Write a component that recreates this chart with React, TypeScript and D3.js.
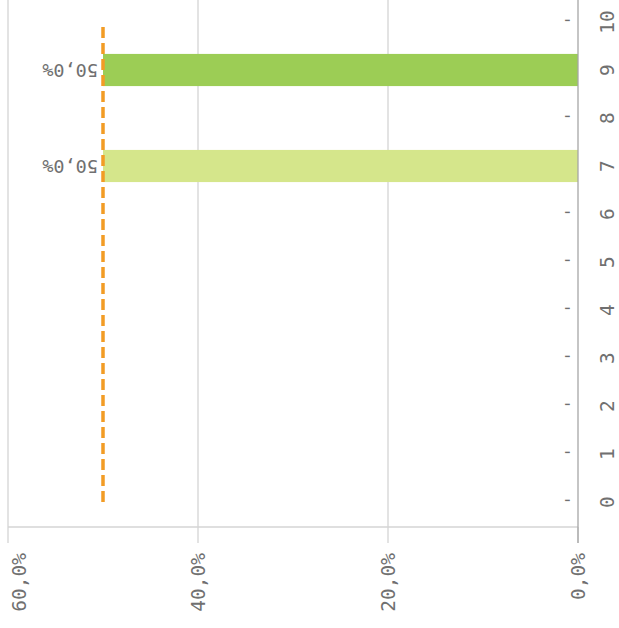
import * as d3 from "d3";

const WIDTH = 619;
const HEIGHT = 628;

// categories along the (rotated) category axis, bottom to top
const categories = ["0", "1", "2", "3", "4", "5", "6", "7", "8", "9", "10"];
// share per category (0 shows as "-")
const values = [0, 0, 0, 0, 0, 0, 0, 0.5, 0, 0.5, 0];
// target line value for each category
const targets = [0.5, 0.5, 0.5, 0.5, 0.5, 0.5, 0.5, 0.5, 0.5, 0.5, 0.5];
const barColors: Record<string, string> = { "7": "#d5e68b", "9": "#9ccd55" };
const valueTicks = [0, 0.2, 0.4, 0.6];

const FONT = "'DejaVu Sans Mono', monospace";
const TEXT = "#707070";

const fmt = (v: number) => (v * 100).toFixed(1).replace(".", ",") + "%";

export default function App() {
  const x = d3.scaleLinear().domain([0, 0.6]).range([578, 8]);
  const y = d3
    .scaleBand<string>()
    .domain(categories)
    .range([526, -2])
    .paddingInner(0.33)
    .paddingOuter(0.165);
  const cy = (c: string) => (y(c) as number) + y.bandwidth() / 2;

  const targetLine = d3
    .line<number>()
    .x((d) => x(d))
    .y((_d, i) => cy(categories[i]));

  const axisY = 527;

  return (
    <svg
      width={WIDTH}
      height={HEIGHT}
      style={{ position: "absolute", left: 0, top: 0, background: "#fff" }}
    >
      {/* gridlines */}
      {valueTicks
        .filter((t) => t > 0)
        .map((t) => (
          <line key={t} x1={x(t)} x2={x(t)} y1={0} y2={axisY} stroke="#d4d4d4" strokeWidth={1.3} />
        ))}

      {/* value axis */}
      <line x1={x(0.6)} x2={x(0)} y1={axisY} y2={axisY} stroke="#d4d4d4" strokeWidth={1.3} />
      {valueTicks.map((t) => (
        <line key={t} x1={x(t)} x2={x(t)} y1={axisY} y2={543} stroke="#d4d4d4" strokeWidth={1.3} />
      ))}

      {/* bars */}
      {categories.map((c, i) =>
        values[i] > 0 ? (
          <rect
            key={c}
            x={x(values[i])}
            y={y(c)}
            width={x(0) - x(values[i])}
            height={y.bandwidth()}
            fill={barColors[c]}
          />
        ) : null,
      )}

      {/* category axis */}
      <line x1={x(0)} x2={x(0)} y1={0} y2={543} stroke="#a6a6a6" strokeWidth={1.3} />

      {/* target line */}
      <path
        d={targetLine(targets) as string}
        fill="none"
        stroke="#f29c25"
        strokeWidth={3.5}
        strokeDasharray="11 5"
      />

      {/* data labels, upside down */}
      {categories.map((c, i) => {
        const px = x(values[i]) - 5;
        const py = cy(c);
        return (
          <text
            key={c}
            transform={`translate(${px},${py}) rotate(180)`}
            textAnchor="start"
            dominantBaseline="central"
            fontFamily={FONT}
            fontSize={18.5}
            fill={TEXT}
          >
            {values[i] > 0 ? fmt(values[i]) : "-"}
          </text>
        );
      })}

      {/* category labels */}
      {categories.map((c) => (
        <text
          key={c}
          transform={`translate(607,${cy(c)}) rotate(-90)`}
          textAnchor="middle"
          dominantBaseline="central"
          fontFamily={FONT}
          fontSize={19.5}
          fill={TEXT}
        >
          {c}
        </text>
      ))}

      {/* value tick labels */}
      {valueTicks.map((t) => (
        <text
          key={t}
          transform={`translate(${Math.max(x(t), 19)},553) rotate(-90)`}
          textAnchor="end"
          dominantBaseline="central"
          fontFamily={FONT}
          fontSize={19.5}
          fill={TEXT}
        >
          {fmt(t)}
        </text>
      ))}
    </svg>
  );
}
